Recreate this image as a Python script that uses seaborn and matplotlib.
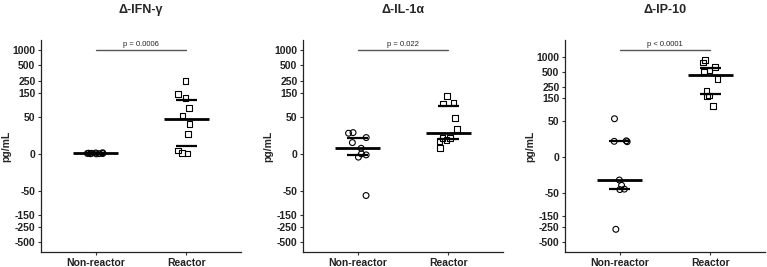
import numpy as np
import pandas as pd
import matplotlib
matplotlib.use("Agg")
import matplotlib.pyplot as plt
import matplotlib.transforms as mtransforms
import seaborn as sns

sns.set_theme(style="white")
plt.rcParams['font.family'] = ['Liberation Sans', 'DejaVu Sans']

groups = ["Non-reactor", "Reactor"]
titles = ["\u0394-IFN-\u03b3", "\u0394-IL-1\u03b1", "\u0394-IP-10"]
pvals = ["p = 0.0006", "p = 0.022", "p < 0.0001"]

ifn_nr = [0.0, 0.2, 0.5, 0.8, 1.0, 0.3, 0.6, 0.1, 0.4]
ifn_r = [250, 139, 118, 75, 53, 34.5, 20, 3, 0.5, 1]
il_nr = [-61.5, -2.9, -0.9, 0, 5, 10.4, 15.7, 20.9, 21.7]
il_r = [130, 95, 92.6, 47.4, 26.9, 15.5, 15, 12.1, 13.2, 5.1]
ip_nr = [56.8, 16.5, 15.9, 15.5, -25, -33.6, -41, -42, -274]
ip_r = [869, 768, 638, 532, 508, 363, 209, 168, 161, 104]

yticks = [-500, -250, -150, -50, 0, 50, 150, 250, 500, 1000]

panels = [(ifn_nr, ifn_r), (il_nr, il_r), (ip_nr, ip_r)]
ylims = [(-767, 1538), (-767, 1538), (-778, 2178)]
lefts = [41, 303, 565]
W, H = 767, 267

def fwd(y):
    return np.arcsinh(np.asarray(y) / 20.0)

def inv(t):
    return 20.0 * np.sinh(np.asarray(t))

fig = plt.figure(figsize=(W / 100, H / 100), dpi=100)

for i, (nr, r) in enumerate(panels):
    ax = fig.add_axes([lefts[i] / W, 1 - 252 / H, 200 / W, 212 / H])
    df = pd.DataFrame({
        "group": [groups[0]] * len(nr) + [groups[1]] * len(r),
        "value": list(nr) + list(r),
    })
    ax.set_yscale("function", functions=(fwd, inv))
    np.random.seed(3 + i)
    sns.stripplot(data=df[df.group == groups[0]], x="group", y="value", order=groups,
                  marker="o", size=4.2, jitter=0.1, color="black", linewidth=0.8,
                  ax=ax, zorder=3)
    sns.stripplot(data=df[df.group == groups[1]], x="group", y="value", order=groups,
                  marker="s", size=4.0, jitter=0.1, color="black", linewidth=0.8,
                  ax=ax, zorder=3)
    for coll in ax.collections:
        coll.set_facecolor("none")
        coll.set_edgecolor("black")
    for j, vals in enumerate([nr, r]):
        med = np.median(vals)
        q1, q3 = np.percentile(vals, [25, 75])
        ax.hlines(med, j - 0.25, j + 0.25, color="black", lw=2.0, zorder=2)
        ax.hlines([q1, q3], j - 0.115, j + 0.115, color="black", lw=1.6, zorder=2)
    ax.set_ylim(*ylims[i])
    ax.set_xlim(-0.6, 1.6)
    ax.set_yticks(yticks)
    ax.set_yticklabels([str(t) for t in yticks], fontweight="bold", fontsize=7.5, color="#222222")
    ax.minorticks_off()
    ax.set_xticks([0, 1])
    ax.set_xticklabels(groups, fontweight="bold", fontsize=7.5, color="#222222")
    ax.tick_params(axis="both", length=2.5, width=0.8, color="#333333", pad=1.5, left=True, bottom=True)
    ax.set_xlabel("")
    ax.set_ylabel("pg/mL", fontweight="bold", fontsize=7.5, labelpad=1)
    for s in ["top", "right"]:
        ax.spines[s].set_visible(False)
    for s in ["left", "bottom"]:
        ax.spines[s].set_color("#222222")
        ax.spines[s].set_linewidth(0.9)
    trans = mtransforms.blended_transform_factory(ax.transData, ax.transAxes)
    ax.plot([0, 1], [0.953, 0.953], transform=trans, color="#555555", lw=1.0, clip_on=False)
    ax.text(0.5, 0.962, pvals[i], transform=trans, ha="center", va="bottom", fontsize=5.5, color="#222222")
    fig.text((lefts[i] + 100) / W, 1 - 10 / H, titles[i], ha="center", va="center",
             fontsize=9, fontweight="bold")

fig.savefig("out.png", dpi=100)
